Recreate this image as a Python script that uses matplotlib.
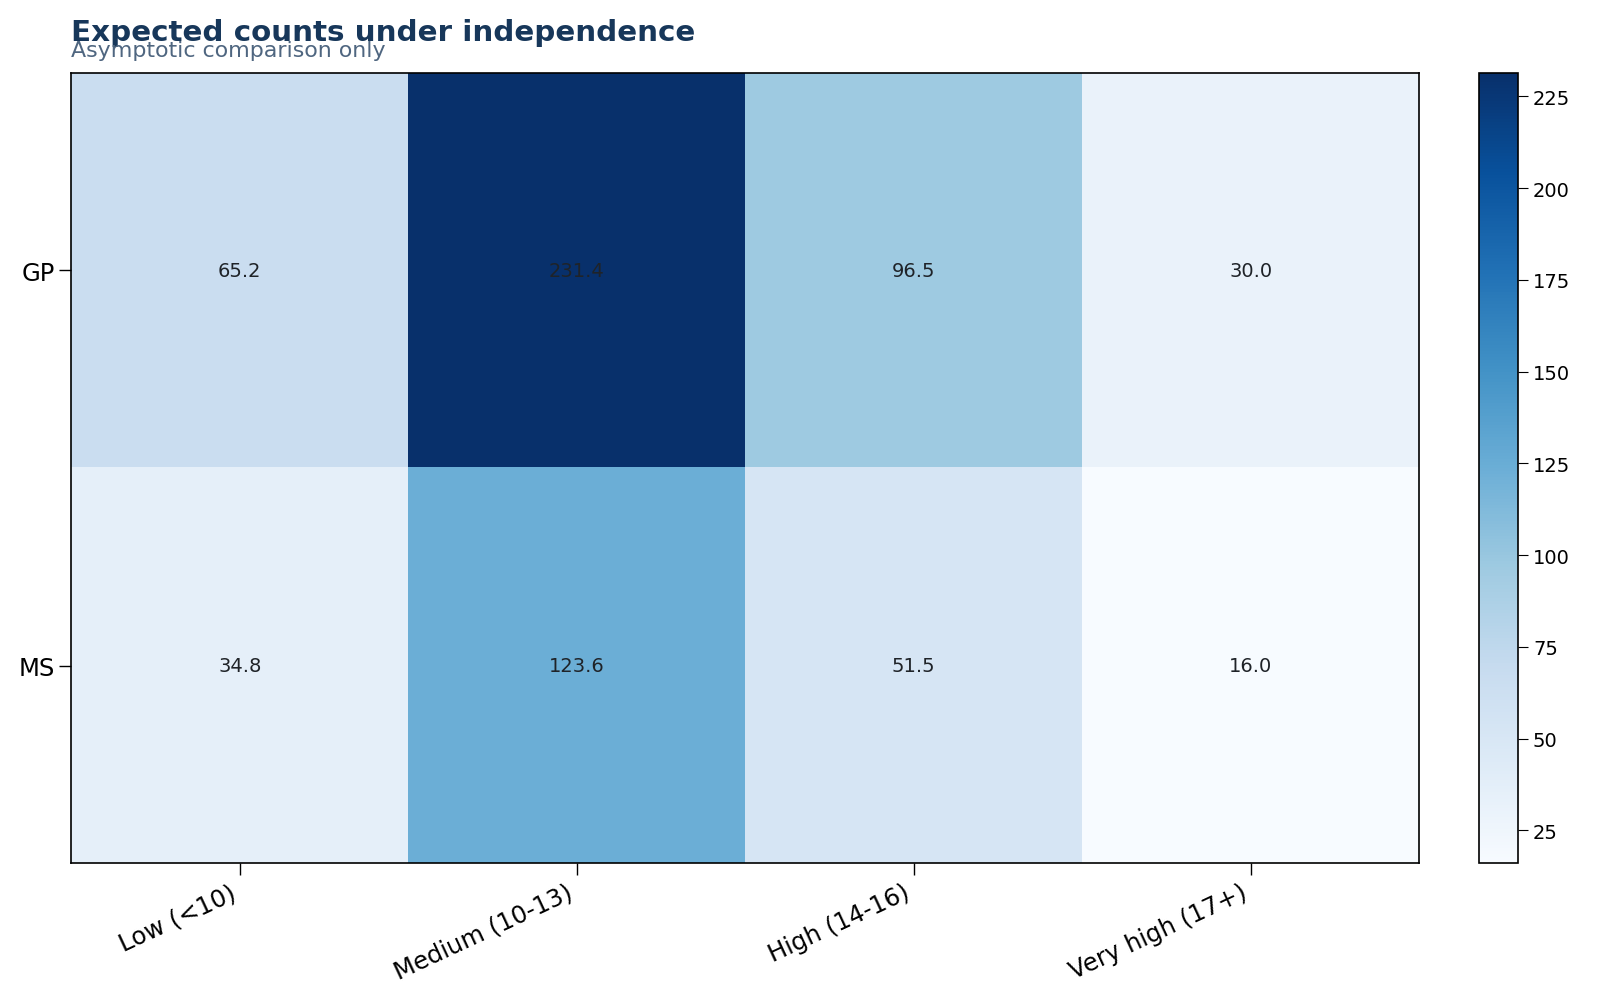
import numpy as np
import matplotlib.pyplot as plt

# expected counts (rows = school, cols = grade band)
schools = ["GP", "MS"]
grade_bands = ["Low (<10)", "Medium (10-13)", "High (14-16)", "Very high (17+)"]
gp_expected = [65.2, 231.4, 96.5, 30.0]
ms_expected = [34.8, 123.6, 51.5, 16.0]

expected = np.array([gp_expected, ms_expected])

fig = plt.figure(figsize=(16, 10.04), dpi=100)
ax = fig.add_axes([0.0446, 0.139, 0.8424, 0.7875])
cax = fig.add_axes([0.9241, 0.139, 0.0249, 0.7875])

im = ax.imshow(expected, cmap="Blues", aspect="auto")

for i in range(expected.shape[0]):
    for j in range(expected.shape[1]):
        ax.text(j, i, f"{expected[i, j]:.1f}", ha="center", va="center",
                fontsize=14, color="#1f2328")

ax.set_xticks(range(len(grade_bands)))
ax.set_xticklabels(grade_bands, rotation=25, ha="right", fontsize=17.5)
ax.set_yticks(range(len(schools)))
ax.set_yticklabels(schools, fontsize=17.5)
ax.tick_params(length=8.5, width=1)
for s in ax.spines.values():
    s.set_linewidth(1.2)

cb = fig.colorbar(im, cax=cax)
cb.ax.tick_params(labelsize=14, length=7)
cb.outline.set_linewidth(1.2)

fig.text(0.0446, 0.959, "Expected counts under independence", fontsize=21.2,
         fontweight="bold", color="#17375a", va="baseline")
fig.text(0.0446, 0.943, "Asymptotic comparison only", fontsize=15.9,
         color="#4f6680", va="baseline")

fig.savefig("out.png", dpi=100)
